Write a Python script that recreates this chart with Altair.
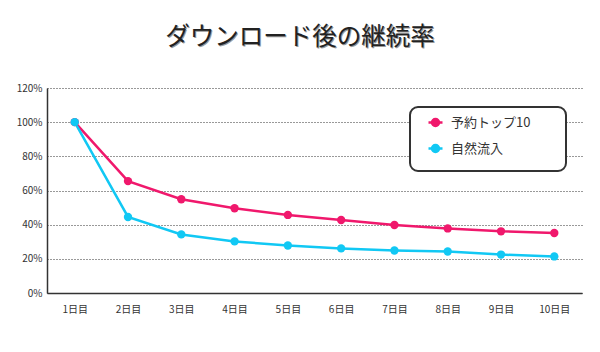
import altair as alt
import pandas as pd

days = ["1日目", "2日目", "3日目", "4日目", "5日目", "6日目", "7日目", "8日目", "9日目", "10日目"]
series_names = ["予約トップ10", "自然流入"]
reserve_top10 = [100, 65.5, 54.9, 49.6, 45.7, 42.7, 39.8, 37.8, 36.1, 35.1]
organic = [100, 44.5, 34.3, 30.2, 27.8, 26.1, 24.9, 24.3, 22.5, 21.4]
colors = ["#f0186c", "#11c8f4"]
title_text = "ダウンロード後の継続率"

rows = []
for d, v in zip(days, reserve_top10):
    rows.append({"day": d, "series": series_names[0], "value": v})
for d, v in zip(days, organic):
    rows.append({"day": d, "series": series_names[1], "value": v})
df = pd.DataFrame(rows)

FONT = "Noto Sans CJK JP"

x = alt.X("day:N", sort=days, title=None,
          scale=alt.Scale(type="point", padding=0.52),
          axis=alt.Axis(labelAngle=0, labelFontSize=10, labelColor="#333", labelFont=FONT,
                        labelPadding=11, ticks=False, domainColor="#333", domainWidth=1.5,
                        grid=False))
y = alt.Y("value:Q", title=None,
          scale=alt.Scale(domain=[0, 120], nice=False),
          axis=alt.Axis(values=[0, 20, 40, 60, 80, 100, 120], labelExpr="datum.value + '%'",
                        labelFontSize=10, labelColor="#333", labelFont=FONT, labelPadding=5,
                        ticks=False, domainColor="#333", domainWidth=1.5,
                        grid=True, gridColor="#333", gridDash=[1, 2], gridWidth=1))
color = alt.Color("series:N", sort=series_names,
                  scale=alt.Scale(domain=series_names, range=colors),
                  legend=alt.Legend(title=None, orient="none", legendX=380, legendY=26,
                                    labelFont=FONT, labelFontSize=13, labelColor="#333",
                                    symbolType="M-1,0H1M-0.5,0A0.5,0.5,0,1,1,0.5,0A0.5,0.5,0,1,1,-0.5,0Z",
                                    symbolSize=196, symbolStrokeWidth=2.5,
                                    rowPadding=9, labelOffset=7, padding=0))

box = alt.Chart(pd.DataFrame({"a": [0]})).mark_rect(
    fill="white", stroke="#333", strokeWidth=2, cornerRadius=8
).encode(x=alt.value(363), x2=alt.value(519), y=alt.value(19), y2=alt.value(83))

lines = alt.Chart(df).mark_line(strokeWidth=2.5).encode(x=x, y=y, color=color)
points = alt.Chart(df).mark_circle(size=70, opacity=1).encode(x=x, y=y, color=color)

shadow = alt.Chart(pd.DataFrame({"t": [title_text]})).mark_text(
    font=FONT, fontSize=24.5, color="#999", align="center", baseline="middle"
).encode(text="t:N", x=alt.value(254), y=alt.value(-49))
title = alt.Chart(pd.DataFrame({"t": [title_text]})).mark_text(
    font=FONT, fontSize=24.5, color="#222", align="center", baseline="middle"
).encode(text="t:N", x=alt.value(253), y=alt.value(-50))

chart = alt.layer(box, lines, points, shadow, title).properties(
    width=535, height=205,
    autosize=alt.AutoSizeParams(type="none"),
    padding={"left": 47, "top": 88, "right": 18, "bottom": 59},
    background="white",
).configure_view(stroke=None).configure_axis(labelFont=FONT)

chart.save("out.html", embed_options={"renderer": "svg", "actions": False})
